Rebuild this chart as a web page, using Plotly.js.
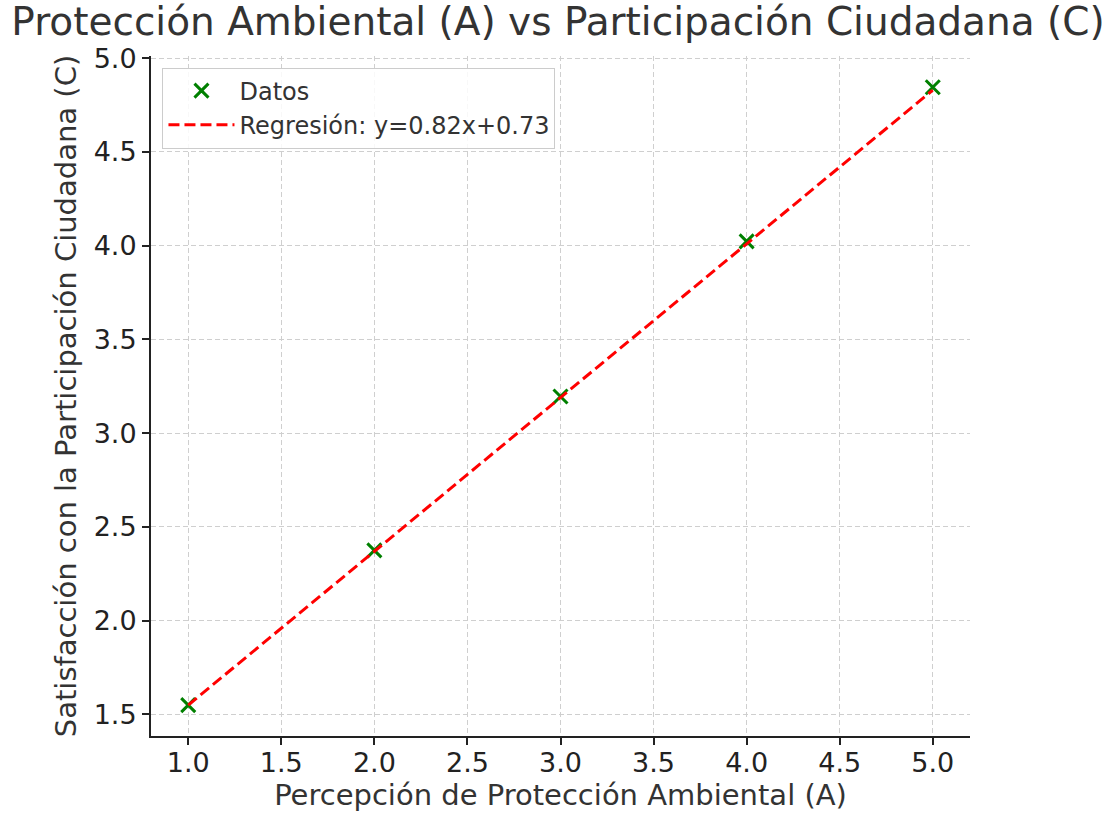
<!DOCTYPE html>
<html>
<head>
<meta charset="utf-8">
<script src="https://cdn.plot.ly/plotly-3.0.1.min.js"></script>
<style>html,body{margin:0;padding:0;background:#fff;}#chart{width:1116px;height:813px;}</style>
</head>
<body>
<div id="chart"></div>
<script>
const dataX = [1, 2, 3, 4, 5];
const dataY = [1.55, 2.375, 3.196, 4.023, 4.845];
const regX = [1, 5];
const regY = [1.55, 4.83];
const xTicks = [1.0, 1.5, 2.0, 2.5, 3.0, 3.5, 4.0, 4.5, 5.0];
const yTicks = [1.5, 2.0, 2.5, 3.0, 3.5, 4.0, 4.5, 5.0];

const font = "DejaVu Sans, sans-serif";
const traces = [
  {x: dataX, y: dataY, mode: 'markers', type: 'scatter', name: 'Datos',
   marker: {symbol: 'x-thin-open', size: 14, color: 'green', line: {width: 3, color: 'green'}}},
  {x: regX, y: regY, mode: 'lines', type: 'scatter', name: 'Regresión: y=0.82x+0.73',
   line: {color: 'red', width: 3, dash: '11px,5px'}}
];
const axisCommon = {
  showline: true, linecolor: '#222', linewidth: 2, mirror: false,
  ticks: 'outside', ticklen: 7, tickwidth: 2, tickcolor: '#222',
  showgrid: true, gridcolor: '#cfcfcf', griddash: '5px,3px', gridwidth: 1,
  zeroline: false, tickfont: {family: font, size: 27, color: '#222'}
};
const layout = {
  width: 1116, height: 813,
  paper_bgcolor: '#fff', plot_bgcolor: '#fff',
  margin: {l: 151, r: 146, t: 56, b: 77},
  title: {text: 'Protección Ambiental (A) vs Participación Ciudadana (C)',
          font: {family: font, size: 39, color: '#333'}, x: 0.5, xanchor: 'center', y: 0.99, yanchor: 'top'},
  xaxis: Object.assign({}, axisCommon, {
    range: [0.8, 5.2], tickvals: xTicks, ticktext: xTicks.map(v => v.toFixed(1)),
    ticklabelstandoff: -5,
    title: {text: 'Percepción de Protección Ambiental (A)', font: {family: font, size: 29, color: '#333'}, standoff: 6}
  }),
  yaxis: Object.assign({}, axisCommon, {
    range: [1.385, 5.012], tickvals: yTicks, ticktext: yTicks.map(v => v.toFixed(1)),
    title: {text: 'Satisfacción con la Participación Ciudadana (C)', font: {family: font, size: 29, color: '#333'}, standoff: 8}
  }),
  showlegend: true,
  legend: {x: 0.014, y: 0.983, xanchor: 'left', yanchor: 'top',
           bgcolor: 'rgba(255,255,255,0.85)', bordercolor: '#ccc', borderwidth: 1,
           font: {family: font, size: 24, color: '#333'}, itemwidth: 66, tracegroupgap: 4}
};
Plotly.newPlot('chart', traces, layout, {displayModeBar: false, staticPlot: true});
</script>
</body>
</html>
